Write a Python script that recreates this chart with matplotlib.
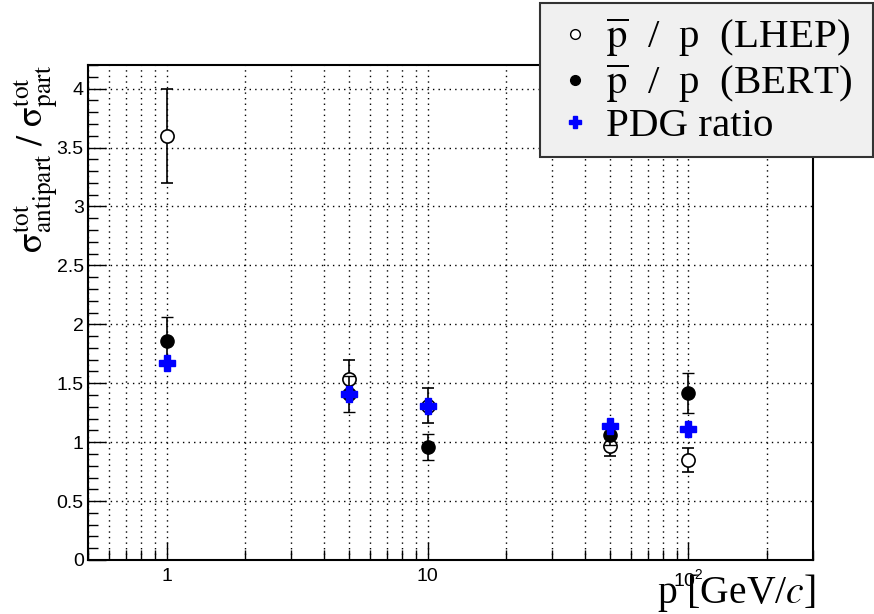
import numpy as np
import matplotlib
matplotlib.use('Agg')
import matplotlib.pyplot as plt
from matplotlib.lines import Line2D
from matplotlib.ticker import FixedLocator, NullFormatter, MultipleLocator, FuncFormatter

plt.rcParams['mathtext.fontset'] = 'stix'

# momenta [GeV/c]
p = [1, 5, 10, 50, 100]
lhep = [3.60, 1.54, 1.31, 0.97, 0.85]   # pbar/p (LHEP)
lhep_err = [0.40, 0.16, 0.15, 0.09, 0.10]
bert = [1.86, 1.41, 0.96, 1.06, 1.42]   # pbar/p (BERT)
bert_err = [0.20, 0.15, 0.11, 0.08, 0.17]
pdg = [1.67, 1.41, 1.31, 1.14, 1.11]    # PDG ratio

xticks = [1, 10, 100]
xtick_labels = ['1', '10', r'$\mathdefault{10^{2}}$']

fig = plt.figure(figsize=(8.74, 6.14), dpi=100)
ax = fig.add_axes([88/874, 1-560/614, (813-88)/874, (560-65)/614])

ax.errorbar(p, lhep, yerr=lhep_err, fmt='o', mfc='white', mec='black', mew=1.2,
            ms=9.5, color='black', ecolor='black', elinewidth=1.2, capsize=4, zorder=3)
ax.errorbar(p, bert, yerr=bert_err, fmt='o', color='black', ms=9.5,
            ecolor='black', elinewidth=1.2, capsize=4, zorder=4)
ax.plot(p, pdg, 'P', color='blue', ms=11, mec='blue', zorder=5)

ax.set_xscale('log')
ax.set_xlim(0.5, 300)
ax.set_ylim(0, 4.2)

minors = [m * 10.0**e for e in (-1, 0, 1, 2) for m in range(2, 10)]
ax.xaxis.set_major_locator(FixedLocator(xticks))
ax.xaxis.set_minor_locator(FixedLocator(minors))
ax.xaxis.set_minor_formatter(NullFormatter())
ax.set_xticklabels(xtick_labels)
ax.yaxis.set_major_locator(MultipleLocator(0.5))
ax.yaxis.set_minor_locator(MultipleLocator(0.1))
ax.yaxis.set_major_formatter(FuncFormatter(lambda v, pos: '%g' % v))

ax.tick_params(which='both', direction='in', labelsize=14, width=1, color='black')
ax.tick_params(which='major', length=13)
ax.tick_params(axis='y', which='major', pad=3)
ax.tick_params(axis='x', which='major', pad=6)
ax.tick_params(which='minor', length=7)
for lab in ax.get_xticklabels() + ax.get_yticklabels():
    lab.set_fontfamily('Liberation Sans')

ax.grid(True, which='major', axis='y', ls=(0, (1, 3)), color='black', lw=1)
ax.grid(True, which='both', axis='x', ls=(0, (1, 3)), color='black', lw=1)
for s in ax.spines.values():
    s.set_linewidth(1.5)

ax.set_xlabel(r'p [GeV/$\mathit{c}$]', fontsize=28.5, family='Liberation Serif')
ax.xaxis.set_label_coords(1.003, -0.11)
ax.xaxis.label.set_ha('right')
ax.xaxis.label.set_va('bottom')
ax.set_ylabel(r'$\mathrm{\sigma}^{\rm tot}_{\rm antipart}\ /\ \mathrm{\sigma}^{\rm tot}_{\rm part}$',
              fontsize=26)
ax.yaxis.set_label_coords(-0.071, 1.0)
ax.yaxis.label.set_ha('right')
ax.yaxis.label.set_va('center')

handles = [
    Line2D([], [], ls='none', marker='o', mfc='white', mec='black', ms=7),
    Line2D([], [], ls='none', marker='o', color='black', ms=7),
    Line2D([], [], ls='none', marker='P', color='blue', ms=8),
]
labels = [r'$\overline{\mathrm{p}}$  /  p  (LHEP)',
          r'$\overline{\mathrm{p}}$  /  p  (BERT)',
          'PDG ratio']
leg = fig.legend(handles, labels, loc='upper left',
                 bbox_to_anchor=(540/874, 1-157/614, 333/874, 154/614), mode='expand',
                 prop={'family': 'Liberation Serif', 'size': 29.5}, frameon=True, fancybox=False,
                 borderaxespad=0, handlelength=1.1, handletextpad=0.2, labelspacing=0.05,
                 borderpad=0.3)
leg.get_frame().set_facecolor('#f0f0f0')
leg.get_frame().set_edgecolor('#333333')
leg.get_frame().set_linewidth(1.5)
leg.get_frame().set_alpha(1)

fig.savefig('out.png', dpi=100)
